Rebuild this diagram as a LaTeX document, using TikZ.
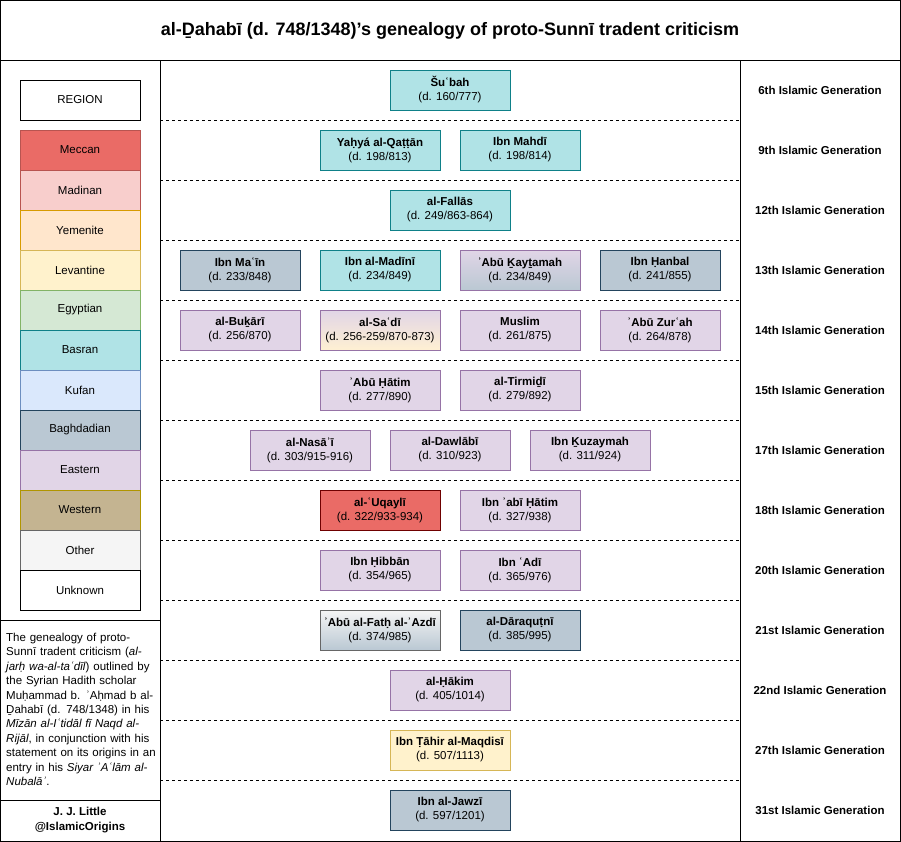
\documentclass[tikz,border=0pt]{standalone}
\usepackage{fontspec}
\setmainfont{Liberation Sans}
\begin{document}
\begin{tikzpicture}[x=1pt,y=-1pt,
  basran/.style={fill={rgb,255:red,176;green,227;blue,230},draw={rgb,255:red,14;green,128;blue,136}},
  baghdad/.style={fill={rgb,255:red,186;green,200;blue,211},draw={rgb,255:red,35;green,68;blue,93}},
  eastern/.style={fill={rgb,255:red,225;green,213;blue,231},draw={rgb,255:red,150;green,115;blue,166}},
  meccan/.style={fill={rgb,255:red,234;green,107;blue,102},draw={rgb,255:red,111;green,0;blue,0}},
  meccanL/.style={fill={rgb,255:red,234;green,107;blue,102},draw={rgb,255:red,184;green,84;blue,80}},
  madinan/.style={fill={rgb,255:red,248;green,206;blue,204},draw={rgb,255:red,184;green,84;blue,80}},
  yemen/.style={fill={rgb,255:red,255;green,230;blue,204},draw={rgb,255:red,215;green,155;blue,0}},
  levant/.style={fill={rgb,255:red,255;green,242;blue,204},draw={rgb,255:red,214;green,182;blue,86}},
  egypt/.style={fill={rgb,255:red,213;green,232;blue,212},draw={rgb,255:red,130;green,179;blue,102}},
  kufan/.style={fill={rgb,255:red,218;green,232;blue,252},draw={rgb,255:red,108;green,142;blue,191}},
  western/.style={fill={rgb,255:red,196;green,180;blue,145},draw={rgb,255:red,176;green,149;blue,0}},
  other/.style={fill={rgb,255:red,245;green,245;blue,245},draw={rgb,255:red,102;green,102;blue,102}},
  unknown/.style={fill=white,draw=black},
  person/.style={minimum width=120pt,minimum height=40pt,inner sep=0pt,align=center,font=\fontsize{11.5}{14}\selectfont},
  legend/.style={minimum width=120pt,minimum height=40pt,inner sep=0pt,font=\fontsize{11.5}{14}\selectfont},
  gen/.style={font=\bfseries\fontsize{11.5}{14}\selectfont},
  frame/.style={draw=black,line width=0.8pt},
  sep/.style={dashed,line width=0.6pt}
]
\useasboundingbox (0,0) rectangle (901,842);
\fill[white] (0,0) rectangle (901,842);
% frames
\draw[frame] (0.5,0.5) rectangle (900,60);
\node[font=\bfseries\fontsize{18}{21}\selectfont] (title) at (450,31) {al-Ḏahabī (d. 748/1348)’s genealogy of proto-Sunnī tradent criticism};
\draw[frame] (0.5,60) rectangle (160,620);
\draw[frame] (0.5,620) rectangle (160,800);
\draw[frame] (0.5,800) rectangle (160,841);
\draw[frame] (160,60) rectangle (740,841);
\draw[frame] (740,60) rectangle (900,841);
\foreach \y in {120,180,...,780} \draw[sep] (160,\y) -- (740,\y);
% legend
\node[legend,unknown] (lreg) at (80,100) {REGION};
\foreach \n/\s [count=\i from 0] in {Meccan/meccanL,Madinan/madinan,Yemenite/yemen,Levantine/levant,Egyptian/egypt,Basran/basran,Kufan/kufan,Baghdadian/baghdad,Eastern/eastern,Western/western,Other/other,Unknown/unknown}
  \node[legend,\s] (l\i) at (80,150+40*\i) {\n};
\node[align=left,text width=152pt,anchor=north west,inner sep=0pt,font=\fontsize{11.5}{14.4}\selectfont] (desc) at (6,633)
{\raggedright The genealogy of proto-Sunnī tradent criticism (\textit{al-jarḥ wa-al-taʿdīl}) outlined by the Syrian Hadith scholar Muḥammad b. ʾAḥmad b al-Ḏahabī (d. 748/1348) in his \textit{Mīzān al-Iʿtidāl fī Naqd al-Rijāl}, in conjunction with his statement on its origins in an entry in his \textit{Siyar ʾAʿlām al-Nubalāʾ}.};
\node[align=center,font=\bfseries\fontsize{11.5}{15}\selectfont] (cred) at (80,820) {J. J. Little\\@IslamicOrigins};
% generations
\foreach \g [count=\i from 0] in {6th,9th,12th,13th,14th,15th,17th,18th,20th,21st,22nd,27th,31st}
  \node[gen] (g\i) at (820,90+60*\i) {\g\ Islamic Generation};
% persons
\node[person,basran] (p1) at (450,90) {\textbf{Šuʿbah}\\(d. 160/777)};
\node[person,basran] (p2) at (380,150) {\textbf{Yaḥyá al-Qaṭṭān}\\(d. 198/813)};
\node[person,basran] (p3) at (520,150) {\textbf{Ibn Mahdī}\\(d. 198/814)};
\node[person,basran] (p4) at (450,210) {\textbf{al-Fallās}\\(d. 249/863-864)};
\node[person,baghdad] (p5) at (240,270) {\textbf{Ibn Maʿīn}\\(d. 233/848)};
\node[person,basran] (p6) at (380,270) {\textbf{Ibn al-Madīnī}\\(d. 234/849)};
\shade[top color={rgb,255:red,225;green,213;blue,231},bottom color={rgb,255:red,186;green,200;blue,211}] (460,250) rectangle (580,290);
\node[person,draw={rgb,255:red,150;green,115;blue,166}] (p7) at (520,270) {\textbf{ʾAbū Ḵayṯamah}\\(d. 234/849)};
\node[person,baghdad] (p8) at (660,270) {\textbf{Ibn Ḥanbal}\\(d. 241/855)};
\node[person,eastern] (p9) at (240,330) {\textbf{al-Buḵārī}\\(d. 256/870)};
\shade[top color={rgb,255:red,225;green,213;blue,231},bottom color={rgb,255:red,255;green,240;blue,210}] (320,310) rectangle (440,350);
\node[person,draw={rgb,255:red,150;green,115;blue,166}] (p10) at (380,330) {\textbf{al-Saʿdī}\\(d. 256-259/870-873)};
\node[person,eastern] (p11) at (520,330) {\textbf{Muslim}\\(d. 261/875)};
\node[person,eastern] (p12) at (660,330) {\textbf{ʾAbū Zurʿah}\\(d. 264/878)};
\node[person,eastern] (p13) at (380,390) {\textbf{ʾAbū Ḥātim}\\(d. 277/890)};
\node[person,eastern] (p14) at (520,390) {\textbf{al-Tirmiḏī}\\(d. 279/892)};
\node[person,eastern] (p15) at (310,450) {\textbf{al-Nasāʾī}\\(d. 303/915-916)};
\node[person,eastern] (p16) at (450,450) {\textbf{al-Dawlābī}\\(d. 310/923)};
\node[person,eastern] (p17) at (590,450) {\textbf{Ibn Ḵuzaymah}\\(d. 311/924)};
\node[person,meccan] (p18) at (380,510) {\textbf{al-ʿUqaylī}\\(d. 322/933-934)};
\node[person,eastern] (p19) at (520,510) {\textbf{Ibn ʾabī Ḥātim}\\(d. 327/938)};
\node[person,eastern] (p20) at (380,570) {\textbf{Ibn Ḥibbān}\\(d. 354/965)};
\node[person,eastern] (p21) at (520,570) {\textbf{Ibn ʿAdī}\\(d. 365/976)};
\shade[top color={rgb,255:red,245;green,245;blue,245},bottom color={rgb,255:red,186;green,200;blue,211}] (320,610) rectangle (440,650);
\node[person,draw={rgb,255:red,102;green,102;blue,102}] (p22) at (380,630) {\textbf{ʾAbū al-Fatḥ al-ʾAzdī}\\(d. 374/985)};
\node[person,baghdad] (p23) at (520,630) {\textbf{al-Dāraquṭnī}\\(d. 385/995)};
\node[person,eastern] (p24) at (450,690) {\textbf{al-Ḥākim}\\(d. 405/1014)};
\node[person,levant] (p25) at (450,750) {\textbf{Ibn Ṭāhir al-Maqdisī}\\(d. 507/1113)};
\node[person,baghdad] (p26) at (450,810) {\textbf{Ibn al-Jawzī}\\(d. 597/1201)};
\end{tikzpicture}
\end{document}
